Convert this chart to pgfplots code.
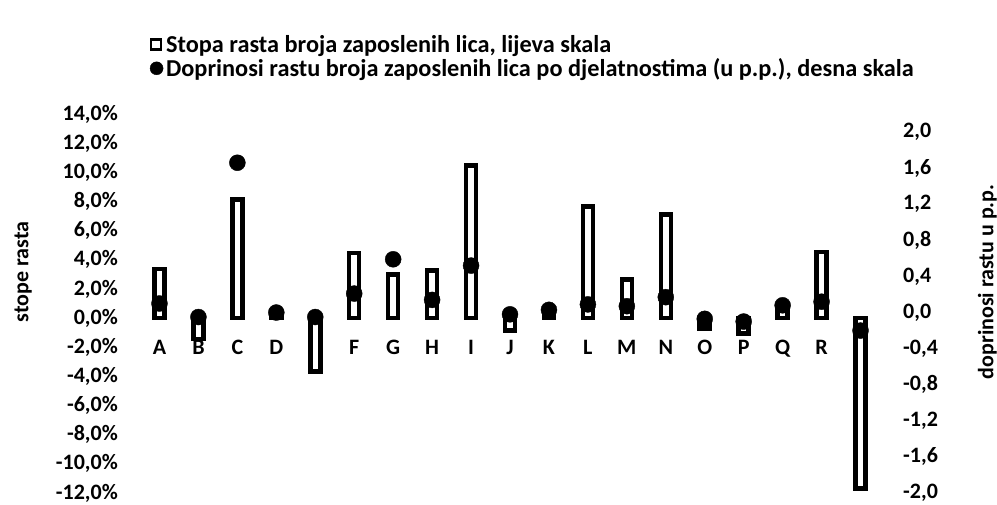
\documentclass[border=0pt]{standalone}
\usepackage{fontspec}
\setmainfont{Carlito}
\usepackage{pgfplots}
\pgfplotsset{compat=1.18}
\pgfplotstableread{
x rate
0 3.35
1 -1.45
2 8.15
3 0.2
4 -3.65
5 4.45
6 3.0
7 3.25
8 10.45
9 -0.85
10 0.4
11 7.65
12 2.65
13 7.1
14 -0.7
15 -1.05
16 0.8
17 4.55
18 -11.7
}\ratetable
\pgfplotstableread{
x contr
0 0.10
1 -0.05
2 1.66
3 0.00
4 -0.05
5 0.21
6 0.59
7 0.14
8 0.52
9 -0.02
10 0.03
11 0.09
12 0.07
13 0.17
14 -0.07
15 -0.10
16 0.08
17 0.12
18 -0.20
}\contrtable
\begin{document}
\begin{tikzpicture}[font=\fontsize{22}{26}\selectfont\bfseries]
\useasboundingbox (0,0) rectangle (997pt,504pt);
\begin{axis}[
  at={(140pt,11pt)}, anchor=south west,
  width=740pt, height=379pt, scale only axis,
  xmin=-0.5, xmax=18.5, ymin=-12, ymax=14,
  axis x line*=bottom, axis y line*=left,
  axis line style={draw=none},
  major tick length=0pt,
  xtick={0,...,18},
  xticklabels={A,B,C,D,E,F,G,H,I,J,K,L,M,N,O,P,Q,R,S},
  xticklabel style={anchor=base, yshift=138pt, inner sep=0pt},
  ytick={-12,-10,...,14},
  /pgf/number format/assume math mode=true,
  yticklabel={\pgfmathprintnumber{\tick}\%},
  yticklabel style={inner sep=0pt, xshift=-22pt, /pgf/number format/.cd, fixed, fixed zerofill, precision=1, use comma},
  ylabel={stope rasta},
  every axis y label/.style={at={(axis description cs:-0.158,0.583)}, rotate=90, anchor=center},
  clip=false,
]
\addplot[ybar, bar width=10pt, fill=white, draw=black, line width=4.5pt] table[x=x, y=rate] {\ratetable};
\end{axis}
\begin{axis}[
  at={(140pt,11pt)}, anchor=south west,
  width=740pt, height=379pt, scale only axis,
  xmin=-0.5, xmax=18.5, ymin=-2, ymax=2.2,
  axis x line=none, axis y line*=right,
  axis line style={draw=none},
  major tick length=0pt,
  ytick={-2,-1.6,-1.2,-0.8,-0.4,0,0.4,0.8,1.2,1.6,2},
  /pgf/number format/assume math mode=true,
  yticklabel style={inner sep=0pt, xshift=23pt, /pgf/number format/.cd, fixed, fixed zerofill, precision=1, use comma},
  ylabel={doprinosi rastu u p.p.},
  every axis y label/.style={at={(axis description cs:1.145,0.557)}, rotate=90, anchor=center},
  clip=false,
  legend style={at={(axis description cs:0.013,1.209)}, anchor=north west, draw=none, fill=none,
    inner sep=0pt, row sep=5pt, nodes={inner xsep=3pt, inner ysep=0pt},
    font=\fontsize{24.3}{28}\selectfont\bfseries},
  legend cell align=left,
]
\addlegendimage{legend image code/.code={\draw[draw=black, fill=white, line width=2.5pt] (3pt,-5pt) rectangle (13pt,5pt);}}
\addlegendentry{Stopa rasta broja zaposlenih lica, lijeva skala}
\addplot[only marks, mark=*, mark size=8pt, black, legend image post style={mark size=6.5pt}] table[x=x, y=contr] {\contrtable};
\addlegendentry{Doprinosi rastu broja zaposlenih lica po djelatnostima (u p.p.), desna skala}
\end{axis}
\end{tikzpicture}
\end{document}
